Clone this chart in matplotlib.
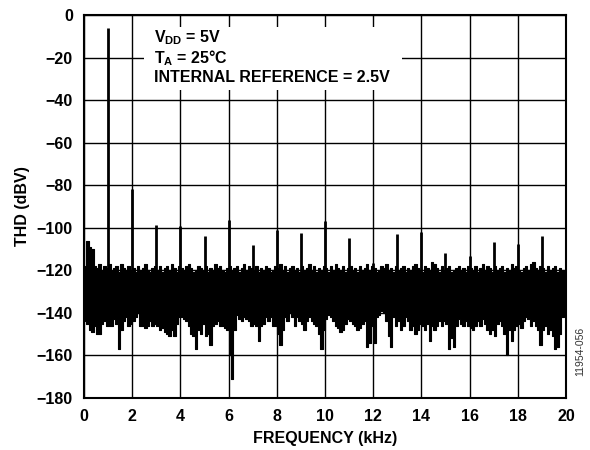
import numpy as np
import matplotlib
matplotlib.use('Agg')
import matplotlib.pyplot as plt
from matplotlib.patches import Rectangle

plt.rcParams['font.family'] = ['Liberation Sans', 'DejaVu Sans']
plt.rcParams['font.weight'] = 'bold'
plt.rcParams['mathtext.fontset'] = 'custom'
plt.rcParams['mathtext.rm'] = 'Liberation Sans:bold'
plt.rcParams['mathtext.bf'] = 'Liberation Sans:bold'

# harmonics (kHz, dBV)
harm_freq = [1, 2, 3, 4, 5, 6, 7, 8, 9, 10, 11, 12, 13, 14, 15, 16, 17, 18, 19]
harm_db = [-6, -82, -98.5, -99, -104, -96.5, -108, -101, -102.5, -97,
           -105, -116.5, -103, -102, -112, -113.5, -106.5, -107.5, -104]

# noise floor read in 0.1 kHz bins: top and bottom of the band
noise_start = 0.05
noise_step = 0.1
noise_top = [
    -118, -106, -109, -110, -118, -119, -117, -120, -118, -119,
    -117, -120, -119, -118, -121, -117, -119, -120, -118, -120,
    -119, -121, -118, -120, -119, -117, -120, -121, -119, -118,
    -120, -118, -121, -119, -118, -120, -117, -119, -121, -118,
    -119, -120, -118, -117, -119, -121, -120, -118, -119, -120,
    -118, -121, -119, -120, -117, -119, -118, -120, -121, -119,
    -118, -120, -119, -118, -121, -119, -117, -120, -118, -119,
    -120, -118, -121, -119, -120, -118, -119, -121, -120, -118,
    -119, -117, -120, -118, -121, -119, -118, -120, -119, -121,
    -118, -120, -119, -117, -120, -118, -121, -119, -120, -118,
    -119, -121, -118, -120, -117, -119, -120, -118, -121, -119,
    -118, -120, -119, -121, -118, -120, -119, -117, -120, -118,
    -119, -121, -120, -118, -119, -117, -120, -119, -121, -118,
    -120, -119, -118, -121, -119, -120, -118, -117, -119, -120,
    -121, -118, -119, -120, -116, -117, -119, -121, -118, -120,
    -119, -118, -121, -120, -119, -118, -120, -119, -121, -118,
    -119, -120, -118, -121, -119, -117, -120, -118, -119, -121,
    -118, -120, -119, -118, -121, -119, -120, -117, -119, -118,
    -120, -121, -119, -118, -120, -117, -116, -119, -120, -118,
    -119, -121, -118, -120, -119, -118, -121, -119, -120, -121,
]
noise_bottom = [
    -144, -145, -148, -149, -146, -150, -150, -145, -144, -146,
    -146, -146, -143, -145, -157, -148, -144, -142, -146, -145,
    -144, -142, -140, -146, -146, -147, -146, -144, -146, -145,
    -146, -148, -147, -149, -150, -151, -148, -151, -145, -142,
    -142, -143, -144, -146, -150, -151, -157, -148, -150, -145,
    -151, -150, -155, -146, -145, -144, -146, -146, -147, -148,
    -160, -171, -148, -141, -143, -144, -142, -143, -144, -146,
    -145, -146, -153, -146, -145, -142, -144, -142, -146, -146,
    -150, -155, -148, -142, -144, -140, -142, -146, -142, -144,
    -145, -148, -144, -142, -144, -145, -146, -150, -157, -148,
    -143, -141, -142, -144, -146, -147, -149, -148, -145, -143,
    -144, -145, -146, -148, -147, -145, -144, -156, -154, -146,
    -154, -142, -141, -139, -140, -144, -151, -156, -142, -146,
    -144, -148, -146, -142, -144, -148, -146, -150, -148, -145,
    -146, -148, -145, -153, -146, -148, -146, -144, -146, -144,
    -145, -157, -152, -156, -146, -143, -145, -146, -144, -146,
    -147, -148, -146, -144, -146, -143, -145, -148, -150, -148,
    -151, -145, -144, -146, -150, -160, -148, -153, -148, -146,
    -145, -147, -144, -142, -143, -146, -144, -146, -148, -155,
    -148, -146, -150, -148, -151, -157, -156, -150, -142, -140,
]

x_ticks = [0, 2, 4, 6, 8, 10, 12, 14, 16, 18, 20]
y_ticks = [0, -20, -40, -60, -80, -100, -120, -140, -160, -180]

noise_freq = noise_start + noise_step * np.arange(len(noise_top))

fig = plt.figure(figsize=(5.9, 4.5), dpi=100)
ax = fig.add_axes([0.1424, 0.1156, 0.8169, 0.8511])

ax.fill_between(noise_freq, noise_bottom, noise_top, step='mid',
                facecolor='black', edgecolor='black', lw=0.8, zorder=3)
ax.vlines(harm_freq, -135, harm_db, color='black', lw=2.0, zorder=3)

ax.set_xlim(0, 20)
ax.set_ylim(-180, 0)
ax.set_xticks(x_ticks)
ax.set_yticks(y_ticks)
ax.tick_params(length=0, labelsize=11.5, pad=8)
ax.grid(True, color='black', lw=1.0, zorder=0)
ax.set_axisbelow(True)
for s in ax.spines.values():
    s.set_linewidth(1.5)
    s.set_zorder(5)

# legend box
ax.add_patch(Rectangle((0.1245, 0.804), 0.5355, 0.1647, transform=ax.transAxes,
                       facecolor='white', edgecolor='none', zorder=2))
ax.text(0.145, 0.94, r'V$_{\mathbf{DD}}$ = 5V', transform=ax.transAxes,
        fontsize=11.5, fontweight='bold', va='center', zorder=4)
ax.text(0.145, 0.888, r'T$_{\mathbf{A}}$ = 25°C', transform=ax.transAxes,
        fontsize=11.5, fontweight='bold', va='center', zorder=4)
ax.text(0.145, 0.8355, 'INTERNAL REFERENCE = 2.5V', transform=ax.transAxes,
        fontsize=11.5, fontweight='bold', va='center', zorder=4)

ax.set_xlabel('FREQUENCY (kHz)', fontsize=11.5, fontweight='bold', labelpad=5)
ax.set_ylabel('THD (dBV)', fontsize=11.5, fontweight='bold', labelpad=5)

fig.text(0.984, 0.22, '11954-056', rotation=90, fontsize=7.5, fontweight='normal',
         color='#333333', ha='center', va='center')

fig.savefig('out.png', dpi=100)
